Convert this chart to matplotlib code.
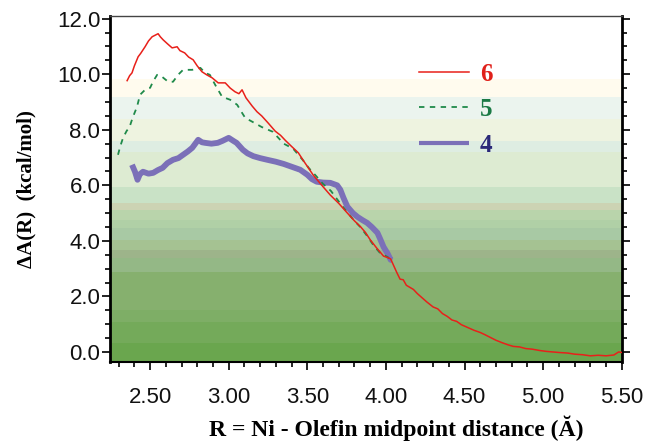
import matplotlib
matplotlib.use("Agg")
import matplotlib.pyplot as plt
from matplotlib.ticker import MultipleLocator, FormatStrFormatter

# curve 6 (red)
x6 = [2.354, 2.37, 2.385, 2.40, 2.424, 2.44, 2.468, 2.49, 2.513, 2.53, 2.551, 2.565,
      2.583, 2.61, 2.64, 2.672, 2.69, 2.72, 2.745, 2.774, 2.80, 2.83, 2.86, 2.895,
      2.933, 2.978, 3.01, 3.04, 3.065, 3.085, 3.11, 3.15, 3.18, 3.21, 3.25, 3.296,
      3.33, 3.36, 3.40, 3.443, 3.474, 3.51, 3.54, 3.57, 3.60, 3.646, 3.70, 3.755,
      3.80, 3.84, 3.87, 3.90, 3.94, 3.985, 4.01, 4.03, 4.05, 4.07, 4.09, 4.11, 4.13,
      4.175, 4.20, 4.23, 4.26, 4.30, 4.33, 4.36, 4.39, 4.42, 4.45, 4.48, 4.52, 4.56,
      4.60, 4.63, 4.665, 4.70, 4.74, 4.78, 4.81, 4.85, 4.89, 4.93, 4.98, 5.02, 5.06,
      5.10, 5.156, 5.20, 5.25, 5.30, 5.35, 5.40, 5.45, 5.48, 5.50]
y6 = [9.77, 9.95, 10.05, 10.30, 10.63, 10.75, 10.99, 11.20, 11.35, 11.40, 11.46, 11.35,
      11.24, 11.10, 10.95, 10.99, 10.85, 10.77, 10.62, 10.52, 10.30, 10.09, 9.98, 9.87,
      9.69, 9.69, 9.50, 9.37, 9.30, 9.44, 9.15, 8.85, 8.65, 8.50, 8.25, 7.95,
      7.80, 7.62, 7.40, 7.17, 6.90, 6.60, 6.35, 6.15, 5.95, 5.65, 5.35, 5.00,
      4.72, 4.50, 4.30, 4.04, 3.75, 3.45, 3.40, 3.35, 3.10, 2.85, 2.62, 2.60, 2.40,
      2.25, 2.10, 1.95, 1.80, 1.62, 1.55, 1.38, 1.28, 1.15, 1.10, 0.98, 0.88, 0.78,
      0.70, 0.62, 0.52, 0.42, 0.33, 0.25, 0.20, 0.18, 0.12, 0.10, 0.05, 0.02, 0.00,
      -0.02, -0.04, -0.08, -0.10, -0.14, -0.12, -0.14, -0.11, 0.00, -0.02]

# curve 5 (green dashed)
x5 = [2.296, 2.31, 2.328, 2.35, 2.37, 2.39, 2.417, 2.436, 2.468, 2.50, 2.52, 2.545,
      2.576, 2.615, 2.646, 2.678, 2.71, 2.768, 2.82, 2.85, 2.88, 2.914, 2.958, 3.01,
      3.054, 3.085, 3.105, 3.15, 3.21, 3.28, 3.35, 3.41, 3.47, 3.51, 3.56, 3.60,
      3.65, 3.70, 3.755, 3.80, 3.84, 3.88, 3.92, 3.96, 4.01, 4.02]
y5 = [7.10, 7.40, 7.71, 7.95, 8.11, 8.45, 8.83, 9.26, 9.44, 9.51, 9.75, 9.98,
      9.91, 9.73, 9.73, 9.98, 10.16, 10.16, 10.23, 10.05, 9.98, 9.62, 9.19, 9.08,
      8.90, 8.61, 8.43, 8.29, 8.10, 7.93, 7.50, 7.32, 6.92, 6.62, 6.31, 6.05,
      5.80, 5.42, 5.02, 4.72, 4.48, 4.18, 3.85, 3.58, 3.42, 3.38]

# curve 4 (blue, thick)
x4 = [2.385, 2.404, 2.42, 2.435, 2.455, 2.49, 2.52, 2.55, 2.58, 2.61, 2.646, 2.68,
      2.71, 2.74, 2.768, 2.806, 2.83, 2.85, 2.89, 2.93, 2.96, 3.00, 3.03, 3.05,
      3.09, 3.12, 3.157, 3.20, 3.245, 3.30, 3.35, 3.40, 3.455, 3.50, 3.53, 3.56,
      3.60, 3.646, 3.69, 3.71, 3.73, 3.755, 3.79, 3.82, 3.85, 3.88, 3.91, 3.946,
      3.965, 3.985, 4.01, 4.03, 4.04]
y4 = [6.74, 6.49, 6.20, 6.40, 6.49, 6.42, 6.45, 6.55, 6.63, 6.80, 6.92, 6.98,
      7.10, 7.22, 7.35, 7.64, 7.55, 7.53, 7.50, 7.53, 7.60, 7.71, 7.60, 7.53,
      7.28, 7.15, 7.05, 6.98, 6.92, 6.85, 6.77, 6.67, 6.56, 6.38, 6.22, 6.13,
      6.10, 6.09, 6.00, 5.84, 5.55, 5.23, 5.00, 4.86, 4.75, 4.65, 4.50, 4.29,
      4.05, 3.78, 3.55, 3.32, 3.30]

labels = ["6", "5", "4"]

# background bands (lower edge, upper edge, colour)
bands = [(9.19, 9.84, "#fffbee"), (8.40, 9.19, "#ebf4ee"), (7.60, 8.40, "#eef3e0"),
         (7.21, 7.60, "#deede2"), (5.95, 7.21, "#ddebd2"), (5.37, 5.95, "#c9e2c6"),
         (5.12, 5.37, "#ccd3b3"), (4.76, 5.12, "#b9d4ab"), (4.47, 4.76, "#b0d0a6"),
         (4.04, 4.47, "#a8c9a4"), (3.68, 4.04, "#a5c292"), (3.39, 3.68, "#9db48a"),
         (2.88, 3.39, "#94b886"), (1.51, 2.88, "#86b06e"), (1.08, 1.51, "#7eae66"),
         (0.32, 1.08, "#74aa5a"), (-0.5, 0.32, "#6aa64e")]

fig = plt.figure(figsize=(6.47, 4.43), dpi=100)
ax = fig.add_axes([0.170, 0.183, 0.791, 0.781])

for lo, hi, c in bands:
    ax.axhspan(lo, hi, color=c, lw=0, zorder=0)

l4, = ax.plot(x4, y4, color="#7b70b8", lw=4.2, solid_capstyle="butt", zorder=2)
l5, = ax.plot(x5, y5, color="#1f8a4a", lw=1.3, ls=(0, (3, 3)), zorder=3)
l6, = ax.plot(x6, y6, color="#e8201a", lw=1.1, zorder=4)

ax.set_xlim(2.245, 5.5)
ax.set_ylim(-0.36, 12.1)

ax.xaxis.set_major_locator(MultipleLocator(0.5))
ax.xaxis.set_minor_locator(MultipleLocator(0.1))
ax.yaxis.set_major_locator(MultipleLocator(2.0))
ax.yaxis.set_minor_locator(MultipleLocator(0.5))
ax.xaxis.set_major_formatter(FormatStrFormatter("%.2f"))
ax.yaxis.set_major_formatter(FormatStrFormatter("%.1f"))

ax.tick_params(axis="both", which="major", direction="out", length=6, width=1.3,
               labelsize=16, colors="#111111")
ax.tick_params(axis="both", which="minor", direction="out", length=3.5, width=1.2)
ax.tick_params(axis="y", which="both", left=True, right=True, pad=1)
ax.tick_params(axis="x", which="major", pad=12)
ax.tick_params(axis="x", which="both", top=False)
for t in ax.get_xticklabels() + ax.get_yticklabels():
    t.set_family("Liberation Sans")

ax.spines["left"].set_linewidth(2.0)
ax.spines["right"].set_linewidth(2.0)
ax.spines["bottom"].set_linewidth(1.5)
ax.spines["top"].set_linewidth(1.0)
ax.spines["top"].set_color("#444444")

ax.set_xlabel("R = Ni - Olefin midpoint distance (Ă)", family="Liberation Serif",
              weight="bold", fontsize=17)
ax.xaxis.set_label_coords(0.56, -0.155)
ax.set_ylabel("ΔA(R)  (kcal/mol)", family="Liberation Serif", weight="bold",
              fontsize=15)
ax.yaxis.set_label_coords(-0.143, 0.5)

leg = ax.legend([l6, l5, l4], labels, loc="upper left", bbox_to_anchor=(0.559, 0.93),
                frameon=False, handlelength=2.0, handletextpad=0.45, labelspacing=0.5,
                prop={"family": "Liberation Serif", "weight": "bold", "size": 18},
                labelcolor=["#e0201a", "#1a7a45", "#2a2878"])
leg.legend_handles[2].set_linewidth(3.0)

fig.savefig("out.png", dpi=100)
